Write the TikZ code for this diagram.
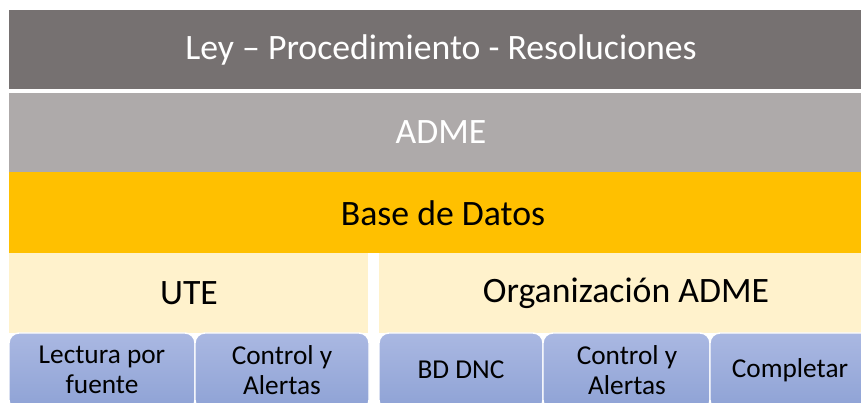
\documentclass[tikz,border=0pt]{standalone}
\usepackage{fontspec}
\setmainfont{Carlito}
\usetikzlibrary{positioning}

\definecolor{leygray}{HTML}{767171}
\definecolor{admegray}{HTML}{AEAAAA}
\definecolor{bdyellow}{HTML}{FFC000}
\definecolor{paleyellow}{HTML}{FFF2CC}
\definecolor{bluetop}{HTML}{AAB8E2}
\definecolor{bluebot}{HTML}{8EA2D5}

\tikzset{
  band/.style={fill=#1, draw=none},
  bigtext/.style={font=\fontsize{30.5}{36}\selectfont, text=#1},
  modbox/.style={rounded corners=0.3cm, top color=bluetop, bottom color=bluebot,
    draw=white, line width=1.2pt},
  modtext/.style={font=\fontsize{23.3}{26}\selectfont, align=center}
}

\begin{document}
\begin{tikzpicture}[x=0.03cm, y=-0.03cm]
\useasboundingbox (0, 0) rectangle (861, 403);
\clip (0, 0) rectangle (861, 403);

\fill[band=leygray] (9, 10) rectangle (861, 89);
\fill[band=admegray] (9, 93) rectangle (861, 172);
\fill[band=bdyellow] (9, 172) rectangle (861, 253);
\fill[band=paleyellow] (9, 253) rectangle (368, 333);
\fill[band=paleyellow] (379, 253) rectangle (861, 333);
\node[bigtext=white] (ley) at (441, 50) {Ley – Procedimiento - Resoluciones};
\node[bigtext=white] (adme) at (441, 132) {ADME};
\node[bigtext=black] (bd) at (443, 213) {Base de Datos};
\node[bigtext=black] (ute) at (189, 293) {UTE};
\node[bigtext=black] (org) at (626, 293) {Organización ADME};

\draw[modbox] (9, 333) rectangle (195, 410);
\draw[modbox] (195, 333) rectangle (369, 410);
\draw[modbox] (379, 333) rectangle (543, 410);
\draw[modbox] (543, 333) rectangle (710, 410);
\draw[modbox] (710, 333) rectangle (875, 410);
\node[modtext] (lectura) at (102, 370) {Lectura por\\fuente};
\node[modtext] (control1) at (282, 370) {Control y\\Alertas};
\node[modtext] (bddnc) at (461, 370) {BD DNC};
\node[modtext] (control2) at (627, 370) {Control y\\Alertas};
\node[modtext] (completar) at (790, 370) {Completar};
\end{tikzpicture}
\end{document}
